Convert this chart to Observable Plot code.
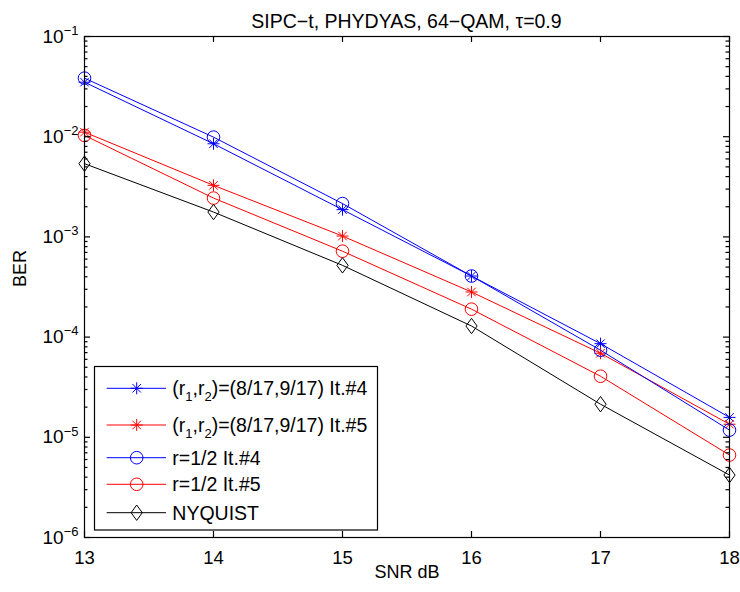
<!DOCTYPE html>
<html><head><meta charset="utf-8">
<script src="https://cdn.jsdelivr.net/npm/d3@7"></script>
<script src="https://cdn.jsdelivr.net/npm/@observablehq/plot@0.6"></script>
<style>body{margin:0;background:#fff}</style>
</head><body><div id="chart"></div>
<script>
// ---- data ----
const snr = [13, 14, 15, 16, 17, 18];
const berRatesIt4 = [0.035, 0.0085, 0.00187, 4.07e-4, 8.6e-5, 1.58e-5];
const berRatesIt5 = [0.0111, 0.00327, 0.00102, 2.82e-4, 6.9e-5, 1.35e-5];
const berHalfIt4 = [0.0384, 0.0099, 0.00215, 4.07e-4, 7.4e-5, 1.18e-5];
const berHalfIt5 = [0.0103, 0.00244, 7.2e-4, 1.9e-4, 4.07e-5, 6.65e-6];
const berNyquist = [0.00538, 0.00177, 5.2e-4, 1.29e-4, 2.14e-5, 4.2e-6];
const xTicks = [13, 14, 15, 16, 17, 18];
const yTicks = [1e-6, 1e-5, 1e-4, 1e-3, 1e-2, 1e-1];
const titleText = "SIPC\u2212t, PHYDYAS, 64\u2212QAM, \u03c4=0.9";
const xLabel = "SNR dB";
const yLabel = "BER";

// ---- layout ----
const W = 740, H = 592, mL = 84, mR = 11, mT = 36, mB = 55;
const fw = W - mL - mR, fh = H - mT - mB;
const FONT = "'Liberation Sans', Arial, Helvetica, sans-serif";

// custom symbols
const asterisk = {draw(ctx, size) {
  const r = Math.sqrt(size / Math.PI), d = r * Math.SQRT1_2;
  ctx.moveTo(0, -r); ctx.lineTo(0, r);
  ctx.moveTo(-r, 0); ctx.lineTo(r, 0);
  ctx.moveTo(-d, -d); ctx.lineTo(d, d);
  ctx.moveTo(-d, d); ctx.lineTo(d, -d);
}};
const circle = {draw(ctx, size) {
  const r = Math.sqrt(size / Math.PI);
  ctx.moveTo(r, 0); ctx.arc(0, 0, r, 0, 2 * Math.PI);
}};
const diamond = {draw(ctx, size) {
  const r = Math.sqrt(size / Math.PI);
  const w = r * 0.8, h = r * 1.1;
  ctx.moveTo(0, -h); ctx.lineTo(w, 0); ctx.lineTo(0, h); ctx.lineTo(-w, 0); ctx.closePath();
}};

const series = [
  {values: berRatesIt4, color: "#0000ff", symbol: asterisk, r: 6},
  {values: berRatesIt5, color: "#ff0000", symbol: asterisk, r: 6},
  {values: berHalfIt4, color: "#0000ff", symbol: circle, r: 6.3},
  {values: berHalfIt5, color: "#ff0000", symbol: circle, r: 6.3},
  {values: berNyquist, color: "#000000", symbol: diamond, r: 7}
];

const yMinor = [];
for (let k = -6; k < -1; k++) for (let m = 2; m <= 9; m++) yMinor.push(m * Math.pow(10, k));

const major = 6, minor = 3.5;
const tickStyle = {stroke: "black", strokeWidth: 1.2};
const marks = [];
for (const s of series) {
  const data = snr.map((x, i) => ({x, y: s.values[i]}));
  marks.push(Plot.line(data, {x: "x", y: "y", stroke: s.color, strokeWidth: 1}));
  marks.push(Plot.dot(data, {x: "x", y: "y", stroke: s.color, fill: "none", symbol: s.symbol, r: s.r, strokeWidth: 1}));
}
marks.push(
  Plot.tickY(yTicks, {y: d => d, insetRight: fw - major, ...tickStyle}),
  Plot.tickY(yTicks, {y: d => d, insetLeft: fw - major, ...tickStyle}),
  Plot.tickY(yMinor, {y: d => d, insetRight: fw - minor, ...tickStyle}),
  Plot.tickY(yMinor, {y: d => d, insetLeft: fw - minor, ...tickStyle}),
  Plot.tickX(xTicks, {x: d => d, insetTop: fh - major, ...tickStyle}),
  Plot.tickX(xTicks, {x: d => d, insetBottom: fh - major, ...tickStyle}),
  Plot.frame({stroke: "black", strokeWidth: 1.2}),
  Plot.axisX({ticks: xTicks, tickSize: 0, tickPadding: 13, label: null, fontSize: 18.5, tickFormat: d => String(d)}),
  Plot.axisY({ticks: yTicks, tickSize: 0, tickPadding: 6, label: null, fontSize: 19,
    tickFormat: d => "10^" + Math.round(Math.log10(d))}),
  Plot.text([xLabel], {frameAnchor: "bottom", dy: 40, fontSize: 18}),
  Plot.text([yLabel], {frameAnchor: "left", dx: -64, rotate: -90, fontSize: 18})
);

const chart = Plot.plot({
  width: W, height: H,
  marginLeft: mL, marginRight: mR, marginTop: mT, marginBottom: mB,
  x: {domain: [13, 18]},
  y: {type: "log", domain: [1e-6, 1e-1]},
  marks
});

const svg = d3.select(chart);
svg.attr("font-family", FONT).attr("fill", "black");
svg.selectAll("text").attr("font-family", FONT);
// superscript exponents on y tick labels
svg.selectAll('g[aria-label="y-axis tick label"] text').each(function() {
  const t = d3.select(this);
  const m = /^10\^(-?\d+)$/.exec(t.text());
  if (!m) return;
  t.text("");
  t.append("tspan").text("10");
  const e = +m[1];
  t.append("tspan").attr("dy", "-0.6em").style("font-size", "13px").text((e < 0 ? "\u2212" : "") + Math.abs(e));
});

// title
svg.append("text").attr("x", mL + fw / 2).attr("y", 28).attr("text-anchor", "middle")
  .style("font-size", "19.5px").attr("font-family", FONT).attr("fill", "black").text(titleText);

// legend
const leg = svg.append("g").attr("font-family", FONT).attr("text-anchor", "start");
leg.append("rect").attr("x", 94.5).attr("y", 366.5).attr("width", 283).attr("height", 163.5)
  .attr("fill", "white").attr("stroke", "black").attr("stroke-width", 1.2);
const rowsY = [388.3, 425, 457.7, 484.3, 512.7];
const legendLabels = [
  [["(r", 0], ["1", 1], [",r", 0], ["2", 1], [")=(8/17,9/17) It.#4", 0]],
  [["(r", 0], ["1", 1], [",r", 0], ["2", 1], [")=(8/17,9/17) It.#5", 0]],
  [["r=1/2 It.#4", 0]],
  [["r=1/2 It.#5", 0]],
  [["NYQUIST", 0]]
];
series.forEach((s, i) => {
  const y = rowsY[i];
  leg.append("line").attr("x1", 106.7).attr("x2", 166).attr("y1", y).attr("y2", y)
    .attr("stroke", s.color).attr("stroke-width", 1);
  leg.append("path").attr("transform", `translate(136.7,${y})`)
    .attr("d", d3.symbol(s.symbol, s.r * s.r * Math.PI)())
    .attr("fill", "none").attr("stroke", s.color);
  const t = leg.append("text").attr("x", 172.3).attr("y", y).attr("dy", "0.35em")
    .attr("fill", "black").attr("text-anchor", "start").style("font-size", "19.5px");
  let shifted = false;
  for (const [str, sub] of legendLabels[i]) {
    const sp = t.append("tspan").text(str);
    if (sub) { sp.style("font-size", "13px"); if (!shifted) { sp.attr("dy", 6); shifted = true; } }
    else if (shifted) { sp.attr("dy", -6); shifted = false; }
  }
});

document.getElementById("chart").appendChild(chart);
</script>
</body></html>
